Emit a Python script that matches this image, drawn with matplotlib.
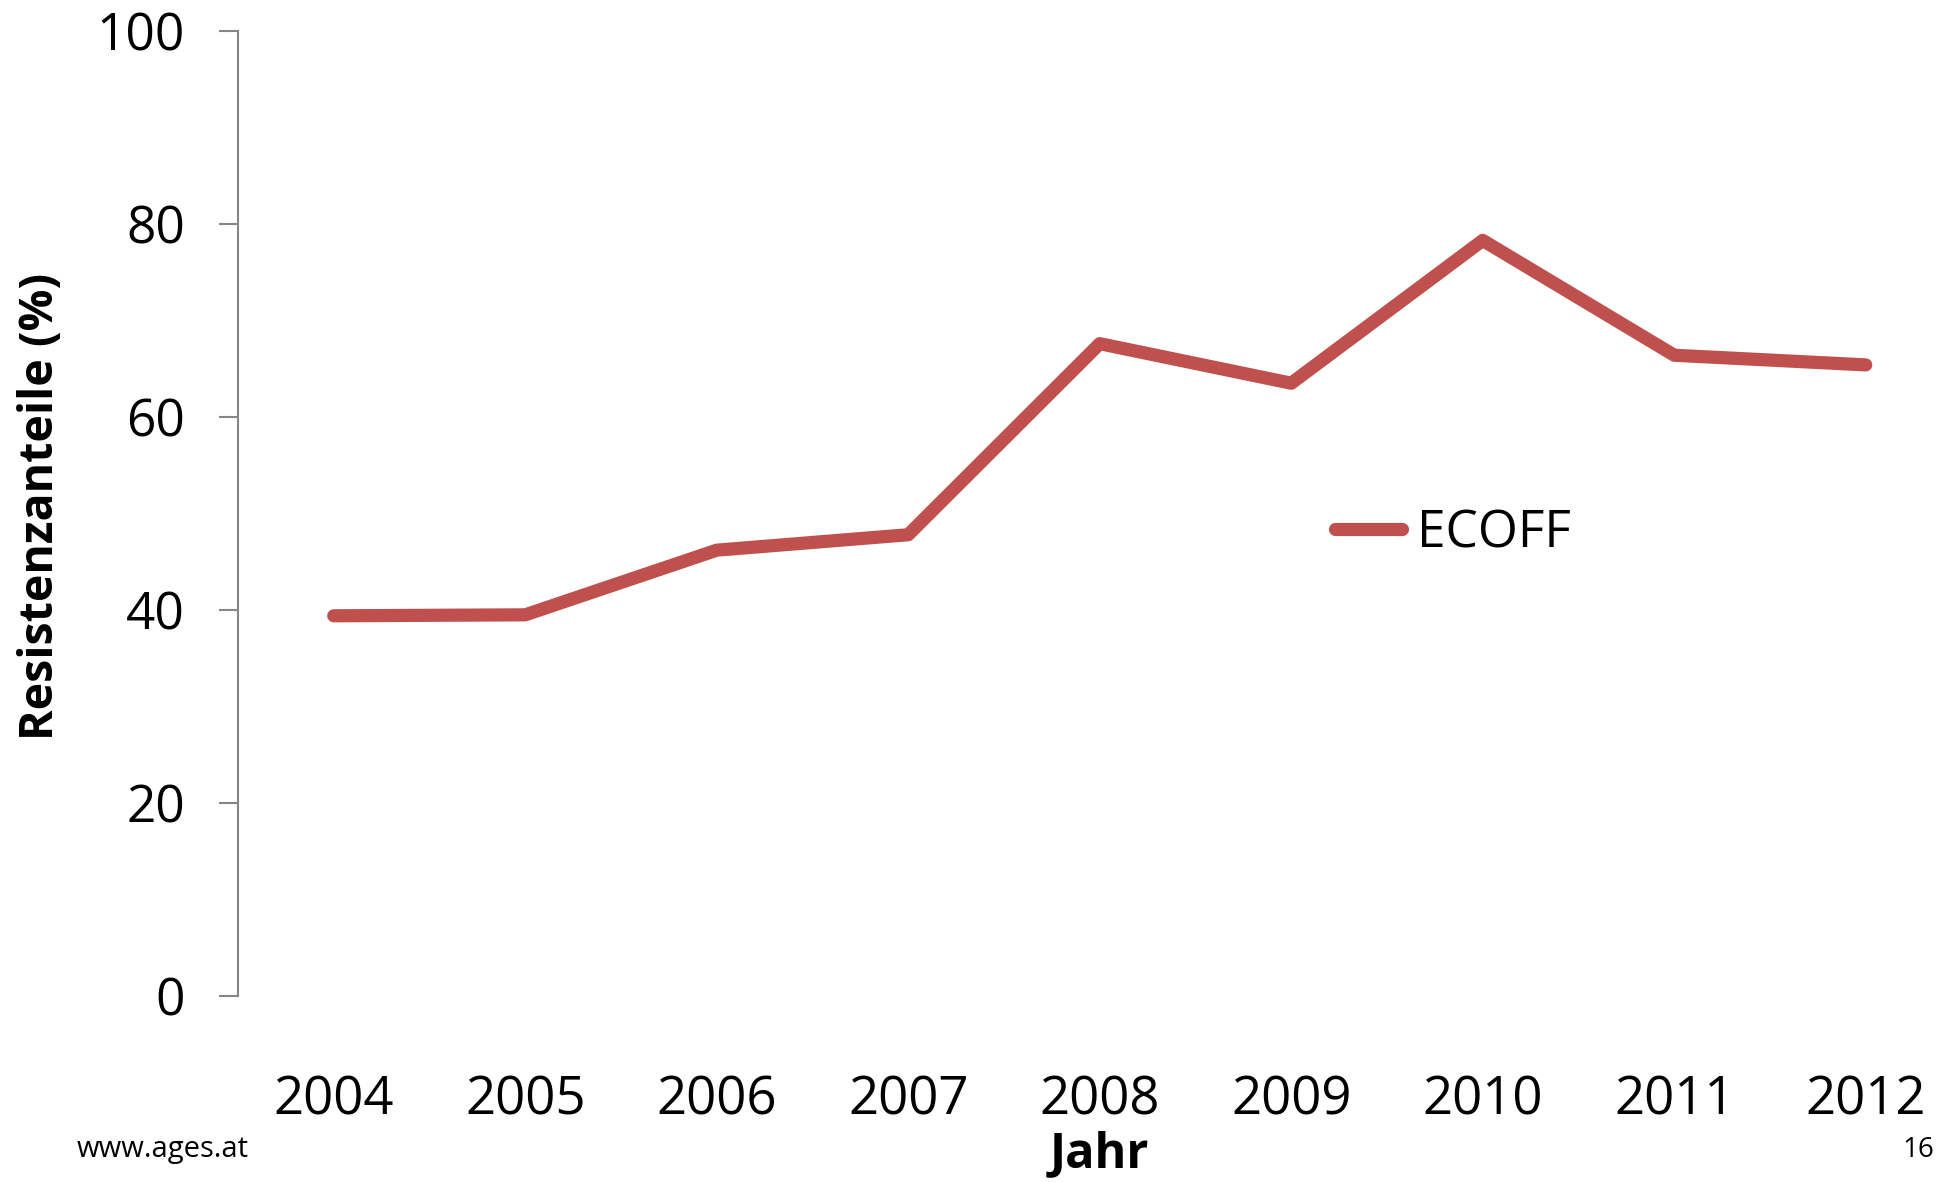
import matplotlib
matplotlib.use("Agg")
import matplotlib.pyplot as plt

plt.rcParams['font.family'] = ['Open Sans', 'DejaVu Sans']

jahre = ['2004', '2005', '2006', '2007', '2008', '2009', '2010', '2011', '2012']
ecoff = [39.4, 39.5, 46.2, 47.8, 67.6, 63.5, 78.3, 66.4, 65.4]
y_ticks = [0, 20, 40, 60, 80, 100]

W, H = 1944, 1182
fig = plt.figure(figsize=(W / 100, H / 100), dpi=100)
# axes geht rechts leicht über den Rand hinaus, wie im Original
ax = fig.add_axes([238 / W, 1 - 996 / H, 9 * 191.5 / W, (996 - 31) / H])

xs = list(range(len(jahre)))
ax.plot(xs, ecoff, color='#C0504D', linewidth=9.5, solid_capstyle='round',
        solid_joinstyle='round', label='ECOFF')

ax.set_xlim(-0.5, len(jahre) - 0.5)
ax.set_ylim(0, 100)
ax.set_yticks(y_ticks)
ax.set_xticks(xs)
ax.set_xticklabels(jahre)

for s in ['top', 'right', 'bottom']:
    ax.spines[s].set_visible(False)
ax.spines['left'].set_color('#868686')
ax.spines['left'].set_linewidth(1.5)

ax.tick_params(axis='y', direction='out', length=14, width=1.5, color='#868686',
               labelsize=37, pad=24)
ax.tick_params(axis='x', length=0, labelsize=38, pad=56)

fig.text(41 / W, 1 - 506 / H, 'Resistenzanteile (%)', fontsize=33.5,
         fontweight='bold', rotation=90, ha='center', va='center')
fig.text(1099 / W, 1 - 1167 / H, 'Jahr', fontsize=35, fontweight='bold',
         ha='center', va='baseline')

ax.legend(loc='upper left', bbox_to_anchor=(1289 / W, 1 - 462 / H),
          bbox_transform=fig.transFigure, frameon=False, fontsize=37,
          handlelength=1.3, handletextpad=0.3)

fig.text(77 / W, 1 - 1150 / H, 'www.ages.at', fontsize=21, va='center')
fig.text(1934 / W, 1 - 1150 / H, '16', fontsize=20, va='center', ha='right')

fig.savefig('out.png', dpi=100)
